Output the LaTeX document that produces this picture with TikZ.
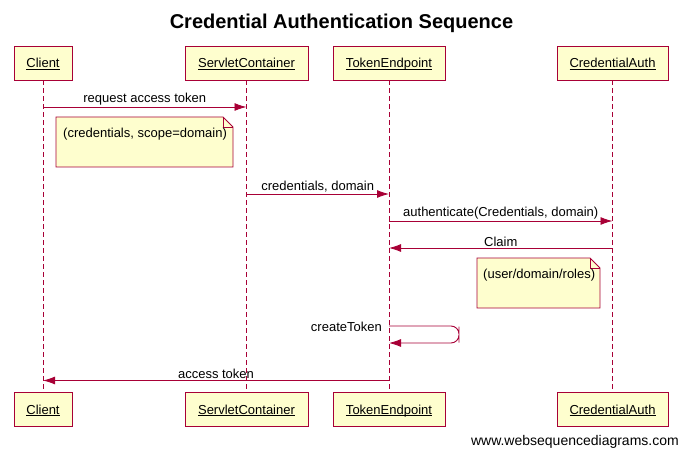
\documentclass[tikz,border=0pt]{standalone}
\usepackage{fontspec}
\setmainfont{Liberation Sans}
\usetikzlibrary{arrows.meta}
\definecolor{seqred}{HTML}{A80036}
\definecolor{seqfill}{HTML}{FEFECE}
\tikzset{
  actor/.style = {draw = seqred, fill = seqfill, line width = 0.9pt, minimum height = 34pt,
    inner sep = 0pt, text height = 10pt, text depth = 0pt, font = \fontsize{13}{15}\selectfont},
  life/.style = {color = seqred, line width = 0.9pt, dash pattern = on 5pt off 3pt},
  msg/.style = {color = seqred, line width = 0.9pt, -{Latex[length = 12pt, width = 8pt]}},
  lbl/.style = {text = black, font = \fontsize{13}{15}\selectfont, inner sep = 1pt},
  notebox/.style = {draw = seqred, fill = seqfill, line width = 0.9pt, line join = miter}
}
\begin{document}
\begin{tikzpicture}[x = 1pt, y = -1pt]
\useasboundingbox (0,0) rectangle (680,449);
\node (Title) [anchor = base, font = \fontsize{20}{24}\selectfont\bfseries] at (341.5,29) {Credential Authentication Sequence};
% participants, top and bottom
\node (ClientTop) [actor, minimum width = 58pt] at (43,63) {\underline{\smash{Client}}};
\node (ServletTop) [actor, minimum width = 123pt] at (246.5,63) {\underline{\smash{ServletContainer}}};
\node (TokenTop) [actor, minimum width = 112pt] at (389,63) {\underline{\smash{TokenEndpoint}}};
\node (AuthTop) [actor, minimum width = 111pt] at (612.5,63) {\underline{\smash{CredentialAuth}}};
\node (ClientBot) [actor, minimum width = 58pt] at (43,409) {\underline{\smash{Client}}};
\node (ServletBot) [actor, minimum width = 123pt] at (246.5,409) {\underline{\smash{ServletContainer}}};
\node (TokenBot) [actor, minimum width = 112pt] at (389,409) {\underline{\smash{TokenEndpoint}}};
\node (AuthBot) [actor, minimum width = 111pt] at (612.5,409) {\underline{\smash{CredentialAuth}}};
\draw [life] (ClientTop) -- (ClientBot);
\draw [life] (ServletTop) -- (ServletBot);
\draw [life] (TokenTop) -- (TokenBot);
\draw [life] (AuthTop) -- (AuthBot);
% messages
\draw [msg] (ClientTop |- 0,107) -- node [lbl, above] {request access token} (ServletTop |- 0,107);
\draw [notebox] (56,117) -- (223,117) -- (233,127) -- (233,167) -- (56,167) -- cycle;
\draw [color = seqred, line width = 0.9pt] (223,117) -- (223,127) -- (233,127);
\node (NoteCred) [lbl, anchor = west] at (62,134) {(credentials, scope=domain)};
\draw [msg] (ServletTop |- 0,194) -- node [lbl, above] {credentials, domain} (TokenTop |- 0,194);
\draw [msg] (TokenTop |- 0,221) -- node [lbl, above] {authenticate(Credentials, domain)} (AuthTop |- 0,221);
\draw [msg] (AuthTop |- 0,248) -- node [lbl, above] {Claim} (TokenTop |- 0,248);
\draw [notebox] (477,258) -- (590,258) -- (600,268) -- (600,308) -- (477,308) -- cycle;
\draw [color = seqred, line width = 0.9pt] (590,258) -- (590,268) -- (600,268);
\node (NoteClaim) [lbl, anchor = west] at (482,275) {(user/domain/roles)};
\draw [msg, rounded corners = 8pt] (TokenTop |- 0,326) -| (459,334.5) |- (TokenTop |- 0,343);
\node (Create) [lbl, anchor = base east] at (383,331) {createToken};
\draw [msg] (TokenTop |- 0,380.5) -- node [lbl, above] {access token} (ClientTop |- 0,380.5);
\node (Footer) [anchor = base east, inner sep = 0pt, font = \fontsize{14}{16}\selectfont] at (679,445) {www.websequencediagrams.com};
\end{tikzpicture}
\end{document}
